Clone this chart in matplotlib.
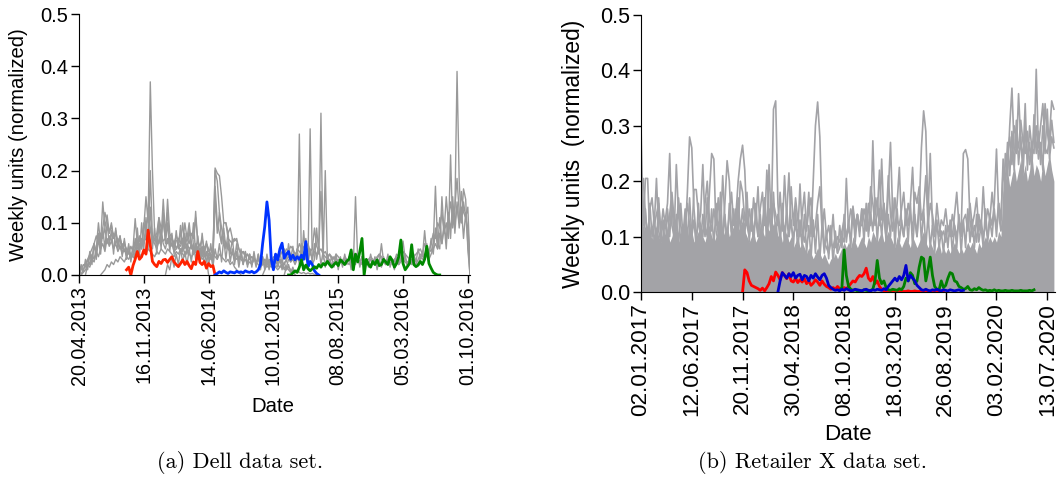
import numpy as np
import pandas as pd
import matplotlib
matplotlib.use("Agg")
import matplotlib.pyplot as plt

# ---------------- (a) Dell data set, weekly, starting 20.04.2013 ----------------
a_start = pd.Timestamp("2013-04-20")
a_weeks = 182
a_ticks = ["20.04.2013", "16.11.2013", "14.06.2014", "10.01.2015",
           "08.08.2015", "05.03.2016", "01.10.2016"]

# gray series: (first week, values)
a_gray1 = [0.0, 0.01, 0.02, 0.015, 0.03, 0.02, 0.04, 0.03, 0.05, 0.1,
           0.06, 0.14, 0.09, 0.115, 0.08, 0.1, 0.07, 0.085, 0.06, 0.075,
           0.05, 0.065, 0.04, 0.055, 0.035, 0.05, 0.108, 0.06, 0.075, 0.05,
           0.09, 0.15, 0.1, 0.37, 0.2, 0.08, 0.06, 0.11, 0.07, 0.145,
           0.08, 0.12, 0.06, 0.075, 0.05, 0.065, 0.07, 0.06, 0.1, 0.055,
           0.07, 0.1, 0.06, 0.05, 0.122, 0.06, 0.045, 0.055, 0.04, 0.06,
           0.05, 0.04, 0.035, 0.205, 0.195, 0.19, 0.15, 0.1, 0.1, 0.08,
           0.09, 0.07, 0.065, 0.07, 0.05, 0.04, 0.045, 0.035, 0.04, 0.03,
           0.035, 0.03, 0.025, 0.03, 0.02, 0.025, 0.03, 0.02, 0.025, 0.02,
           0.03, 0.025, 0.02, 0.03, 0.025, 0.02, 0.03, 0.035, 0.025, 0.03,
           0.02, 0.03, 0.27, 0.02, 0.085, 0.03, 0.025, 0.28, 0.02, 0.03,
           0.09, 0.04, 0.31, 0.03, 0.2, 0.025, 0.03, 0.02, 0.025, 0.03,
           0.02, 0.025, 0.03, 0.02, 0.025, 0.03, 0.025, 0.02, 0.15, 0.03,
           0.025, 0.02, 0.03, 0.025, 0.02, 0.03, 0.025, 0.02, 0.03, 0.025,
           0.06, 0.025, 0.02, 0.03, 0.025, 0.02, 0.03, 0.025, 0.02, 0.03,
           0.065, 0.03, 0.025, 0.02, 0.03, 0.025, 0.02, 0.03, 0.04, 0.035,
           0.085, 0.04, 0.05, 0.045, 0.06, 0.17, 0.06, 0.05, 0.15, 0.08,
           0.1, 0.07, 0.23, 0.09, 0.12, 0.39, 0.18, 0.1, 0.165, 0.145,
           0.05, 0.0]
a_gray2 = [0.0, 0.0, 0.005, 0.01, 0.02, 0.015, 0.03, 0.025, 0.045, 0.035,
           0.05, 0.06, 0.045, 0.07, 0.055, 0.065, 0.05, 0.06, 0.045, 0.055,
           0.04, 0.05, 0.035, 0.045, 0.03, 0.04, 0.05, 0.06, 0.045, 0.07,
           0.06, 0.08, 0.05, 0.2, 0.07, 0.06, 0.05, 0.065, 0.08, 0.06,
           0.05, 0.07, 0.055, 0.06, 0.045, 0.05, 0.06, 0.045, 0.055, 0.04,
           0.05, 0.045, 0.06, 0.04, 0.05, 0.045, 0.04, 0.05, 0.035, 0.045,
           0.04, 0.035, 0.03, 0.2, 0.18, 0.12, 0.09, 0.07, 0.06, 0.05,
           0.045, 0.04, 0.035, 0.03, 0.035, 0.03, 0.025, 0.03, 0.02, 0.025,
           0.02, 0.03, 0.025, 0.02, 0.015, 0.02, 0.025, 0.015, 0.02, 0.015,
           0.02, 0.015, 0.01, 0.015, 0.02, 0.01, 0.015, 0.01, 0.005, 0.01,
           0.005, 0.01, 0.005, 0.003, 0.005, 0.002, 0.004, 0.002, 0.003, 0.001, 0.0]
a_gray3 = [0.0, 0.02, 0.035, 0.03, 0.06, 0.045, 0.08, 0.05, 0.09, 0.12,
           0.1, 0.08, 0.095, 0.07, 0.08, 0.06, 0.07, 0.055, 0.06, 0.05,
           0.045, 0.04, 0.035, 0.07, 0.04, 0.06, 0.05, 0.1, 0.08, 0.12,
           0.09, 0.06, 0.07, 0.08, 0.11, 0.09, 0.1, 0.07, 0.145, 0.08,
           0.07, 0.06, 0.075, 0.065, 0.08, 0.06, 0.1, 0.07, 0.06, 0.08,
           0.07, 0.11, 0.065, 0.055, 0.07, 0.05, 0.06, 0.045, 0.05, 0.04,
           0.17, 0.1, 0.08, 0.06, 0.1, 0.1, 0.07, 0.065, 0.06, 0.07,
           0.065, 0.05, 0.04, 0.045, 0.035, 0.04, 0.03, 0.035, 0.03, 0.025,
           0.03, 0.025, 0.02, 0.03, 0.02, 0.025, 0.03, 0.02, 0.015, 0.02,
           0.015, 0.02, 0.015, 0.01, 0.015, 0.01, 0.005, 0.0]
a_gray4 = [0.0, 0.005, 0.01, 0.02, 0.015, 0.025, 0.02, 0.03, 0.025, 0.035,
           0.03, 0.025, 0.035, 0.03, 0.04, 0.035, 0.03, 0.045, 0.04, 0.035,
           0.045, 0.04, 0.05, 0.045, 0.04, 0.035, 0.045, 0.04, 0.05, 0.045,
           0.04, 0.05, 0.045, 0.04, 0.035, 0.045, 0.04, 0.05, 0.04, 0.035,
           0.045, 0.04, 0.035, 0.04, 0.045, 0.035, 0.04, 0.03, 0.035, 0.04,
           0.035, 0.03, 0.04, 0.035, 0.03, 0.04, 0.035, 0.03, 0.025, 0.03,
           0.02, 0.025, 0.015, 0.01, 0.005, 0.0]
a_gray5 = [0.0, 0.01, 0.02, 0.03, 0.025, 0.035, 0.03, 0.04, 0.035, 0.045,
           0.04, 0.05, 0.045, 0.055, 0.05, 0.04, 0.045, 0.06, 0.05, 0.04,
           0.045, 0.05, 0.04, 0.035, 0.045, 0.04, 0.05, 0.16, 0.04, 0.035,
           0.03, 0.04, 0.035, 0.03, 0.04, 0.035, 0.03, 0.025, 0.035, 0.03,
           0.025, 0.03, 0.035, 0.04, 0.03, 0.025, 0.035, 0.03, 0.025, 0.03,
           0.035, 0.03, 0.025, 0.03, 0.04, 0.035, 0.03, 0.025, 0.03, 0.035,
           0.03, 0.025, 0.04, 0.035, 0.03, 0.045, 0.04, 0.035, 0.03, 0.04,
           0.035, 0.04, 0.045, 0.05, 0.04, 0.06, 0.05, 0.045, 0.06, 0.08,
           0.07, 0.1, 0.09, 0.12, 0.08, 0.15, 0.1, 0.14, 0.11, 0.13,
           0.185, 0.12, 0.1, 0.14, 0.11, 0.13, 0.02]
a_gray6 = [0.0, 0.015, 0.03, 0.025, 0.04, 0.03, 0.05, 0.045, 0.04, 0.055,
           0.05, 0.06, 0.045, 0.05, 0.09, 0.055, 0.045, 0.05, 0.04, 0.045,
           0.035, 0.04, 0.03, 0.035, 0.025, 0.03, 0.025, 0.02, 0.03, 0.025,
           0.02, 0.025, 0.03, 0.035, 0.03, 0.02, 0.025, 0.02, 0.03, 0.025,
           0.02, 0.025, 0.03, 0.035, 0.04, 0.03, 0.025, 0.02, 0.025, 0.03,
           0.025, 0.03, 0.035, 0.02, 0.025, 0.03, 0.025, 0.02, 0.03, 0.025,
           0.03, 0.025, 0.02, 0.035, 0.03, 0.04, 0.035, 0.03, 0.04, 0.05,
           0.06, 0.05, 0.08, 0.06, 0.09, 0.07, 0.11, 0.09, 0.12, 0.1,
           0.13, 0.1, 0.16, 0.12, 0.11, 0.09, 0.03]
a_gray7 = [0.02, 0.0, 0.01, 0.02, 0.03, 0.04, 0.05, 0.06, 0.075, 0.06,
           0.08, 0.07, 0.09, 0.06, 0.075, 0.065, 0.08, 0.06, 0.07, 0.05,
           0.06, 0.045, 0.05, 0.04, 0.055, 0.045, 0.06, 0.05, 0.07, 0.055,
           0.065, 0.07, 0.06, 0.09, 0.07, 0.065, 0.075, 0.06, 0.08, 0.065,
           0.07, 0.06, 0.075, 0.055, 0.065, 0.05, 0.06, 0.055, 0.07, 0.05,
           0.06, 0.05, 0.055, 0.045, 0.06, 0.04, 0.05, 0.035, 0.045, 0.03, 0.0]
a_gray8 = [0.0, 0.02, 0.005, 0.03, 0.01, 0.045, 0.02, 0.06, 0.03, 0.07,
           0.04, 0.09, 0.05, 0.1, 0.06, 0.085, 0.04, 0.09, 0.05, 0.075,
           0.035, 0.07, 0.03, 0.06, 0.025, 0.055, 0.03, 0.09, 0.04, 0.1,
           0.05, 0.11, 0.06, 0.13, 0.05, 0.09, 0.04, 0.1, 0.05, 0.12,
           0.06, 0.1, 0.045, 0.08, 0.04, 0.085, 0.05, 0.095, 0.045, 0.08,
           0.04, 0.09, 0.05, 0.1, 0.045, 0.075, 0.035, 0.08, 0.04, 0.065,
           0.03, 0.06, 0.025, 0.15, 0.08, 0.12, 0.06, 0.09, 0.05, 0.08,
           0.04, 0.07, 0.03, 0.06, 0.025, 0.05, 0.02, 0.045, 0.02, 0.04,
           0.015, 0.045, 0.02, 0.04, 0.015, 0.035, 0.01, 0.04, 0.015, 0.03,
           0.01, 0.035, 0.015, 0.03, 0.01, 0.025, 0.01, 0.02, 0.005, 0.015,
           0.0]
a_gray9 = [0.0, 0.02, 0.01, 0.035, 0.015, 0.04, 0.02, 0.05, 0.025, 0.045,
           0.02, 0.05, 0.025, 0.06, 0.03, 0.055, 0.025, 0.05, 0.02, 0.045,
           0.02, 0.04, 0.015, 0.05, 0.03, 0.06, 0.025, 0.07, 0.03, 0.065,
           0.025, 0.05, 0.02, 0.045, 0.015, 0.04, 0.02, 0.045, 0.015, 0.04,
           0.02, 0.035, 0.015, 0.04, 0.01, 0.035, 0.015, 0.03, 0.01, 0.035,
           0.015, 0.04, 0.02, 0.045, 0.02, 0.05, 0.025, 0.06, 0.03, 0.055,
           0.025, 0.05, 0.02, 0.06, 0.03, 0.07, 0.02, 0.05, 0.025, 0.06,
           0.03, 0.055, 0.02, 0.045, 0.015, 0.04, 0.02, 0.035, 0.015, 0.04,
           0.01, 0.035, 0.015, 0.04, 0.02, 0.035, 0.01, 0.045, 0.02, 0.04,
           0.015, 0.035, 0.01, 0.03, 0.015, 0.04, 0.02, 0.035, 0.01, 0.03,
           0.015, 0.035, 0.02, 0.04, 0.015, 0.03, 0.01, 0.035, 0.02, 0.045,
           0.02, 0.04, 0.015, 0.035, 0.02, 0.04, 0.025, 0.05, 0.03, 0.045,
           0.03, 0.06, 0.035, 0.07, 0.04, 0.09, 0.05, 0.11, 0.06, 0.1,
           0.05, 0.12, 0.07, 0.15, 0.08, 0.14, 0.09, 0.13, 0.07, 0.12,
           0.06, 0.0]
a_gray = [(0, a_gray1), (0, a_gray2), (3, a_gray3), (10, a_gray4),
          (85, a_gray5), (95, a_gray6), (0, a_gray7), (0, a_gray8), (40, a_gray9)]

a_red_start = 22
a_red = [0.01, 0.015, 0.0, 0.018, 0.03, 0.045, 0.03, 0.035, 0.048, 0.04,
         0.086, 0.057, 0.026, 0.02, 0.016, 0.026, 0.022, 0.029, 0.03, 0.024,
         0.03, 0.035, 0.025, 0.02, 0.016, 0.022, 0.029, 0.02, 0.026, 0.018,
         0.012, 0.025, 0.02, 0.045, 0.024, 0.02, 0.026, 0.013, 0.022, 0.016,
         0.018, 0.0]
a_blue_start = 63
a_blue = [0.0, 0.003, 0.006, 0.004, 0.008, 0.005, 0.003, 0.006, 0.005, 0.004,
          0.007, 0.005, 0.006, 0.004, 0.008, 0.006, 0.005, 0.007, 0.004, 0.006,
          0.01, 0.02, 0.06, 0.093, 0.14, 0.105, 0.03, 0.01, 0.04, 0.029,
          0.05, 0.061, 0.032, 0.04, 0.045, 0.03, 0.038, 0.029, 0.035, 0.03,
          0.038, 0.03, 0.064, 0.016, 0.026, 0.02, 0.008, 0.003, 0.0]
a_green_start = 97
a_green = [0.0, 0.0, 0.004, 0.008, 0.005, 0.015, 0.029, 0.01, 0.019, 0.012,
           0.008, 0.012, 0.016, 0.013, 0.02, 0.015, 0.022, 0.019, 0.026, 0.02,
           0.015, 0.02, 0.024, 0.018, 0.029, 0.025, 0.02, 0.027, 0.03, 0.048,
           0.01, 0.04, 0.025, 0.045, 0.07, 0.0, 0.03, 0.02, 0.015, 0.026,
           0.02, 0.029, 0.018, 0.02, 0.03, 0.025, 0.02, 0.035, 0.028, 0.015,
           0.022, 0.035, 0.067, 0.022, 0.01, 0.016, 0.022, 0.058, 0.02, 0.016,
           0.019, 0.026, 0.02, 0.03, 0.055, 0.022, 0.013, 0.005, 0.002, 0.0,
           0.0]

# ---------------- (b) Retailer X data set, weekly, starting 02.01.2017 ----------------
b_start = pd.Timestamp("2017-01-02")
b_ticks = ["02.01.2017", "12.06.2017", "20.11.2017", "30.04.2018", "08.10.2018",
           "18.03.2019", "26.08.2019", "03.02.2020", "13.07.2020"]

# solid gray mass (top of densely overlapping series)
b_fill = [0.14, 0.11, 0.12, 0.10, 0.12, 0.09, 0.11, 0.12, 0.10, 0.09,
          0.11, 0.10, 0.12, 0.09, 0.10, 0.12, 0.11, 0.09, 0.10, 0.11,
          0.12, 0.10, 0.13, 0.11, 0.09, 0.10, 0.11, 0.12, 0.10, 0.09,
          0.11, 0.12, 0.10, 0.09, 0.10, 0.11, 0.12, 0.10, 0.11, 0.12,
          0.10, 0.11, 0.12, 0.13, 0.11, 0.12, 0.13, 0.11, 0.10, 0.09,
          0.10, 0.11, 0.09, 0.10, 0.12, 0.11, 0.10, 0.12, 0.11, 0.13,
          0.12, 0.13, 0.10, 0.11, 0.09, 0.10, 0.11, 0.09, 0.10, 0.08,
          0.09, 0.10, 0.08, 0.09, 0.08, 0.07, 0.08, 0.07, 0.06, 0.07,
          0.08, 0.07, 0.06, 0.07, 0.06, 0.05, 0.06, 0.06, 0.07, 0.06,
          0.07, 0.08, 0.09, 0.08, 0.09, 0.08, 0.10, 0.09, 0.08, 0.09,
          0.10, 0.09, 0.08, 0.10, 0.09, 0.11, 0.10, 0.09, 0.10, 0.11,
          0.09, 0.10, 0.11, 0.10, 0.09, 0.08, 0.10, 0.09, 0.08, 0.09,
          0.10, 0.09, 0.08, 0.10, 0.09, 0.08, 0.09, 0.10, 0.11, 0.09,
          0.08, 0.09, 0.08, 0.07, 0.08, 0.09, 0.07, 0.08, 0.07, 0.08,
          0.07, 0.08, 0.09, 0.08, 0.07, 0.08, 0.07, 0.08, 0.09, 0.08,
          0.09, 0.08, 0.07, 0.09, 0.08, 0.09, 0.10, 0.09, 0.10, 0.09,
          0.10, 0.09, 0.11, 0.10, 0.18, 0.20, 0.22, 0.19, 0.21, 0.23,
          0.20, 0.22, 0.24, 0.21, 0.23, 0.20, 0.22, 0.25, 0.21, 0.23,
          0.22, 0.20, 0.24, 0.21, 0.23, 0.25, 0.22, 0.20]
b_gray1 = [0.30, 0.12, 0.205, 0.205, 0.10, 0.08, 0.12, 0.205, 0.11, 0.09,
           0.10, 0.13, 0.16, 0.25, 0.12, 0.10, 0.23, 0.14, 0.09, 0.12,
           0.10, 0.18, 0.28, 0.26, 0.15, 0.10, 0.12, 0.14, 0.23, 0.12,
           0.10, 0.18, 0.25, 0.24, 0.11, 0.09, 0.13, 0.10, 0.16, 0.237,
           0.20, 0.11, 0.09, 0.14, 0.20, 0.24, 0.265, 0.22, 0.12, 0.10,
           0.14, 0.11, 0.13, 0.19, 0.10, 0.12, 0.17, 0.10, 0.23, 0.12,
           0.33, 0.345, 0.16, 0.10, 0.13, 0.11, 0.14, 0.215, 0.12, 0.10,
           0.12, 0.10, 0.195, 0.11, 0.09, 0.12, 0.18, 0.10, 0.20, 0.30,
           0.343, 0.28, 0.14, 0.09, 0.08, 0.07, 0.09, 0.08, 0.10, 0.07,
           0.08, 0.10, 0.09, 0.205, 0.11, 0.10, 0.155, 0.12, 0.14, 0.11,
           0.15, 0.13, 0.11, 0.16, 0.12, 0.273, 0.14, 0.17, 0.12, 0.24,
           0.13, 0.10, 0.18, 0.27, 0.14, 0.11, 0.16, 0.225, 0.12, 0.10,
           0.14, 0.12, 0.16, 0.225, 0.13, 0.10, 0.15, 0.26, 0.327, 0.29,
           0.14, 0.25, 0.12, 0.10, 0.16, 0.12, 0.10, 0.11, 0.09, 0.12,
           0.10, 0.14, 0.12, 0.10, 0.13, 0.11, 0.25, 0.257, 0.24, 0.13,
           0.10, 0.12, 0.09, 0.14, 0.11, 0.19, 0.12, 0.10, 0.14, 0.12,
           0.16, 0.258, 0.14, 0.11, 0.13, 0.25, 0.21, 0.30, 0.368, 0.26,
           0.25, 0.358, 0.27, 0.24, 0.34, 0.22, 0.30, 0.26, 0.25, 0.402,
           0.26, 0.30, 0.34, 0.26, 0.25, 0.28, 0.345, 0.33]
b_gray2 = [0.18, 0.205, 0.14, 0.10, 0.15, 0.17, 0.12, 0.14, 0.16, 0.11,
           0.15, 0.12, 0.10, 0.14, 0.18, 0.13, 0.11, 0.17, 0.12, 0.10,
           0.13, 0.16, 0.12, 0.10, 0.185, 0.185, 0.14, 0.12, 0.10, 0.16,
           0.20, 0.13, 0.11, 0.15, 0.12, 0.17, 0.11, 0.21, 0.13, 0.10,
           0.14, 0.18, 0.12, 0.15, 0.11, 0.20, 0.18, 0.13, 0.12, 0.15,
           0.11, 0.17, 0.13, 0.10, 0.15, 0.18, 0.12, 0.22, 0.14, 0.11,
           0.16, 0.14, 0.12, 0.18, 0.11, 0.21, 0.13, 0.10, 0.19, 0.12,
           0.17, 0.13, 0.10, 0.14, 0.18, 0.11, 0.15, 0.17, 0.10, 0.12,
           0.16, 0.19, 0.11, 0.15, 0.10, 0.12, 0.09, 0.14, 0.08, 0.10,
           0.09, 0.11, 0.13, 0.10, 0.12, 0.15, 0.13, 0.11, 0.14, 0.12,
           0.12, 0.15, 0.13, 0.11, 0.19, 0.16, 0.12, 0.14, 0.22, 0.13,
           0.16, 0.12, 0.21, 0.14, 0.11, 0.17, 0.13, 0.12, 0.15, 0.18,
           0.12, 0.16, 0.14, 0.11, 0.18, 0.16, 0.19, 0.13, 0.15, 0.21,
           0.12, 0.16, 0.14, 0.11, 0.12, 0.10, 0.13, 0.12, 0.15, 0.11,
           0.12, 0.10, 0.14, 0.18, 0.12, 0.10, 0.13, 0.14, 0.11, 0.16,
           0.12, 0.14, 0.17, 0.11, 0.13, 0.10, 0.12, 0.15, 0.13, 0.18,
           0.14, 0.12, 0.16, 0.13, 0.22, 0.19, 0.25, 0.28, 0.23, 0.30,
           0.28, 0.26, 0.31, 0.27, 0.25, 0.29, 0.23, 0.26, 0.28, 0.30,
           0.24, 0.27, 0.22, 0.34, 0.29, 0.26, 0.31, 0.27]
b_gray3 = [0.17, 0.09, 0.15, 0.08, 0.16, 0.10, 0.14, 0.08, 0.17, 0.09,
           0.13, 0.08, 0.15, 0.10, 0.17, 0.09, 0.14, 0.08, 0.16, 0.10,
           0.15, 0.09, 0.17, 0.10, 0.13, 0.08, 0.16, 0.09, 0.14, 0.10,
           0.17, 0.09, 0.15, 0.08, 0.16, 0.10, 0.18, 0.09, 0.14, 0.08,
           0.16, 0.10, 0.15, 0.09, 0.17, 0.11, 0.15, 0.10, 0.18, 0.09,
           0.15, 0.08, 0.16, 0.10, 0.14, 0.09, 0.17, 0.08, 0.15, 0.10,
           0.18, 0.10, 0.14, 0.09, 0.16, 0.08, 0.15, 0.10, 0.13, 0.08,
           0.15, 0.07, 0.13, 0.08, 0.14, 0.07, 0.12, 0.06, 0.13, 0.07,
           0.14, 0.06, 0.12, 0.07, 0.11, 0.06, 0.12, 0.05, 0.11, 0.07,
           0.12, 0.08, 0.14, 0.09, 0.13, 0.08, 0.15, 0.09, 0.14, 0.10,
           0.15, 0.09, 0.16, 0.10, 0.14, 0.11, 0.17, 0.09, 0.15, 0.10,
           0.16, 0.09, 0.14, 0.10, 0.17, 0.08, 0.15, 0.09, 0.13, 0.10,
           0.15, 0.09, 0.16, 0.08, 0.14, 0.10, 0.17, 0.09, 0.15, 0.08,
           0.14, 0.08, 0.12, 0.07, 0.13, 0.08, 0.11, 0.07, 0.12, 0.08,
           0.13, 0.07, 0.12, 0.08, 0.14, 0.07, 0.13, 0.08, 0.15, 0.09,
           0.13, 0.08, 0.14, 0.09, 0.12, 0.08, 0.15, 0.09, 0.13, 0.10,
           0.15, 0.10, 0.16, 0.12, 0.24, 0.19, 0.27, 0.21, 0.29, 0.22,
           0.31, 0.23, 0.28, 0.21, 0.30, 0.24, 0.27, 0.22, 0.32, 0.25,
           0.29, 0.23, 0.30, 0.25, 0.33, 0.24, 0.28, 0.26]

b_red_start = 46
b_red = [0.0, 0.04, 0.035, 0.02, 0.012, 0.01, 0.008, 0.006, 0.003, 0.007,
         0.002, 0.008, 0.015, 0.028, 0.02, 0.036, 0.03, 0.022, 0.035, 0.03,
         0.024, 0.033, 0.02, 0.018, 0.025, 0.017, 0.022, 0.018, 0.024, 0.015,
         0.02, 0.012, 0.016, 0.022, 0.018, 0.012, 0.02, 0.014, 0.01, 0.008,
         0.005, 0.008, 0.005, 0.01, 0.006, 0.004, 0.008, 0.006, 0.01, 0.015,
         0.02, 0.018, 0.025, 0.03, 0.028, 0.033, 0.043, 0.025, 0.02, 0.028,
         0.015, 0.02, 0.01, 0.005,
         0.002, 0.001, 0.002, 0.001, 0.001, 0.002, 0.001, 0.001, 0.002, 0.001,
         0.001, 0.002, 0.001, 0.001, 0.002, 0.001, 0.001, 0.002, 0.001, 0.001,
         0.002, 0.001, 0.001, 0.002, 0.001, 0.001, 0.002, 0.001]
b_blue_start = 62
b_blue = [0.0, 0.02, 0.035, 0.03, 0.025, 0.033, 0.028, 0.035, 0.025, 0.03,
          0.032, 0.022, 0.03, 0.028, 0.02, 0.03, 0.025, 0.033, 0.027, 0.022,
          0.03, 0.033, 0.025, 0.012, 0.008, 0.005,
          0.003, 0.004, 0.002, 0.005, 0.003, 0.006, 0.004, 0.002, 0.003, 0.005,
          0.004, 0.003, 0.002, 0.004, 0.005, 0.003, 0.002, 0.004, 0.003, 0.005,
          0.004, 0.003, 0.006, 0.004,
          0.01, 0.015, 0.02, 0.025, 0.02, 0.028, 0.022, 0.03, 0.048, 0.02,
          0.03, 0.025, 0.02, 0.012, 0.008,
          0.004, 0.003, 0.005, 0.003, 0.002, 0.004, 0.003, 0.005, 0.003, 0.002,
          0.004, 0.003, 0.002, 0.004, 0.003, 0.002, 0.003, 0.004, 0.002, 0.003]
b_green_start = 90
b_green = [0.003, 0.008, 0.076, 0.03, 0.01, 0.005, 0.003, 0.004, 0.002, 0.003,
           0.002, 0.004, 0.003, 0.002, 0.003, 0.005, 0.02, 0.057, 0.025, 0.015,
           0.02, 0.008, 0.004, 0.003, 0.005, 0.004, 0.003, 0.006, 0.004, 0.01,
           0.025, 0.02, 0.035, 0.03, 0.015, 0.02, 0.045, 0.063, 0.06, 0.02,
           0.04, 0.063, 0.03, 0.01, 0.005, 0.004, 0.02, 0.008, 0.012, 0.025,
           0.035, 0.033, 0.02, 0.018, 0.01, 0.008, 0.005, 0.006, 0.01, 0.004,
           0.003, 0.006, 0.004, 0.008, 0.005, 0.003, 0.004, 0.002, 0.003, 0.002,
           0.004, 0.002, 0.003, 0.002, 0.002, 0.003, 0.002, 0.002, 0.003, 0.002,
           0.002, 0.002, 0.003, 0.002, 0.002, 0.002, 0.003, 0.002, 0.004]


def weeks(start, first, n):
    return start + pd.to_timedelta(7 * (first + np.arange(n)), unit="D")


plt.rcParams['font.family'] = ['Liberation Sans', 'DejaVu Sans']

fig = plt.figure(figsize=(10.57, 4.82), dpi=100)
ax1 = fig.add_axes([79 / 1057, 207 / 482, 391 / 1057, 261 / 482])
ax2 = fig.add_axes([641 / 1057, 190 / 482, 414 / 1057, 277 / 482])

# panel (a)
for first, vals in a_gray:
    ax1.plot(weeks(a_start, first, len(vals)), vals, color='#999999', lw=1.0)
ax1.plot(weeks(a_start, a_red_start, len(a_red)), a_red, color='#ff2200', lw=2.0)
ax1.plot(weeks(a_start, a_blue_start, len(a_blue)), a_blue, color='#0033ff', lw=2.0)
ax1.plot(weeks(a_start, a_green_start, len(a_green)), a_green, color='#008800', lw=2.0)
ax1.set_xlim(a_start, a_start + pd.Timedelta(days=7 * (a_weeks - 1)))
ax1.set_xticks(pd.to_datetime(a_ticks, format="%d.%m.%Y"))
ax1.set_xticklabels(a_ticks, rotation=90, fontsize=14.2)

# panel (b)
b_x = weeks(b_start, 0, len(b_fill))
ax2.fill_between(b_x, 0, b_fill, color='#a3a3a7', lw=0)
for vals in (b_gray3, b_gray2, b_gray1):
    ax2.plot(b_x, vals, color='#a3a3a7', lw=1.2)
ax2.plot(weeks(b_start, b_red_start, len(b_red)), b_red, color='#ff0000', lw=2.0)
ax2.plot(weeks(b_start, b_green_start, len(b_green)), b_green, color='#008000', lw=2.0)
ax2.plot(weeks(b_start, b_blue_start, len(b_blue)), b_blue, color='#0000cc', lw=2.0)
ax2.set_xlim(b_start, b_start + pd.Timedelta(days=7 * 187.5))
ax2.set_xticks(pd.to_datetime(b_ticks, format="%d.%m.%Y"))
ax2.set_xticklabels(b_ticks, rotation=90, fontsize=16.2)

for ax, fs, lfs, lab in [(ax1, 14.5, 14.6, "Weekly units (normalized)"),
                         (ax2, 15.5, 16.4, "Weekly units  (normalized)")]:
    ax.set_ylim(0, 0.5)
    ax.set_yticks([0.0, 0.1, 0.2, 0.3, 0.4, 0.5])
    ax.set_yticklabels(["0.0", "0.1", "0.2", "0.3", "0.4", "0.5"], fontsize=fs)
    ax.spines['top'].set_visible(False)
    ax.spines['right'].set_visible(False)
    ax.spines['bottom'].set_zorder(1)
    ax.tick_params(direction='out', length=6, width=1, pad=2)
    ax.set_ylabel(lab, fontsize=lfs)

ax1.set_xlabel("Date", fontsize=14.7)
ax2.set_xlabel("Date", fontsize=16.2)
ax1.yaxis.set_label_coords(-0.130, 0.5)
ax2.yaxis.set_label_coords(-0.135, 0.5)
ax1.xaxis.set_label_coords(0.496, -0.467)
ax2.xaxis.set_label_coords(0.5, -0.477)

fig.text(240 / 1057, 1 - 462 / 482, "(a) Dell data set.", family='cmr10',
         fontsize=16, ha='center', va='center')
fig.text(812 / 1057, 1 - 462 / 482, "(b) Retailer X data set.", family='cmr10',
         fontsize=16, ha='center', va='center')

fig.savefig("out.png", dpi=100)
